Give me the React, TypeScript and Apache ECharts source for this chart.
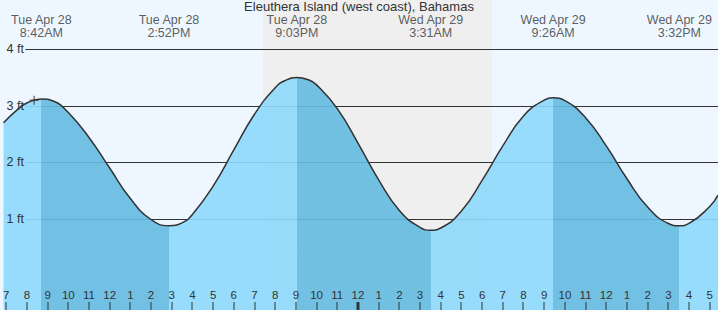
import React, { useEffect, useRef } from "react";
import * as echarts from "echarts";

// Hours since Tue Apr 28 00:00 (local) and tide height in feet
const curveHours = [6.87, 7.5, 8, 8.7, 9.3, 10, 11, 12, 13, 14, 14.867, 15.5, 16, 17, 18, 19, 20, 20.5, 21.05, 21.6, 22, 23, 24, 25, 26, 27, 27.517, 28, 29, 30, 31, 32, 33, 33.433, 34, 35, 36, 37, 38, 39, 39.533, 40, 41, 41.4];
const curveFeet = [2.7, 2.92, 3.05, 3.12, 3.08, 2.88, 2.44, 1.9, 1.36, 0.99, 0.88, 0.93, 1.08, 1.58, 2.22, 2.85, 3.32, 3.45, 3.5, 3.46, 3.37, 2.95, 2.34, 1.69, 1.15, 0.85, 0.8, 0.84, 1.14, 1.68, 2.29, 2.82, 3.1, 3.14, 3.09, 2.79, 2.29, 1.71, 1.21, 0.92, 0.88, 0.92, 1.22, 1.42];

// High / low tide events
const extremeHours = [8.7, 14.867, 21.05, 27.517, 33.433, 39.533];
const extremeDays = ["Tue Apr 28", "Tue Apr 28", "Tue Apr 28", "Wed Apr 29", "Wed Apr 29", "Wed Apr 29"];
const extremeTimes = ["8:42AM", "2:52PM", "9:03PM", "3:31AM", "9:26AM", "3:32PM"];

// Night (sunset -> sunrise)
const nightStart = 19.4;
const nightEnd = 30.47;

// Axis ticks
const hourTicks = [7, 8, 9, 10, 11, 12, 13, 14, 15, 16, 17, 18, 19, 20, 21, 22, 23, 24, 25, 26, 27, 28, 29, 30, 31, 32, 33, 34, 35, 36, 37, 38, 39, 40, 41];
const midnightHour = 24;
const feetTicks = [1, 2, 3, 4];

// Current time marker
const nowHour = 8.35;
const nowFeet = 3.1;

const xMin = 6.87;
const xMax = 41.4;
const yMin = -0.61;
const yMax = 4.87;

const titleText = "Eleuthera Island (west coast), Bahamas";

const FONT = '"Liberation Sans", Arial, sans-serif';
const LIGHT = "#8ed9fc";
const DARK = "#64bbe1";

export default function App() {
  const ref = useRef<HTMLDivElement>(null);

  useEffect(() => {
    if (!ref.current) return;
    const chart = echarts.init(ref.current, undefined, { renderer: "svg" });

    const pieces: any[] = [{ lt: extremeHours[0], color: LIGHT }];
    for (let i = 0; i < extremeHours.length - 1; i++) {
      pieces.push({ gte: extremeHours[i], lt: extremeHours[i + 1], color: i % 2 === 0 ? DARK : LIGHT });
    }
    pieces.push({ gte: extremeHours[extremeHours.length - 1], color: extremeHours.length % 2 === 0 ? LIGHT : DARK });

    const gridLineStart = xMin + (22 * (xMax - xMin)) / 718;

    const option: any = {
      animation: false,
      backgroundColor: "#eef7ff",
      textStyle: { fontFamily: FONT },
      title: {
        text: titleText,
        left: "center",
        top: 0,
        padding: 0,
        textStyle: { fontSize: 13, lineHeight: 13, fontWeight: "normal", color: "#333", fontFamily: FONT },
      },
      grid: { left: 0, right: 0, top: 0, bottom: 0 },
      xAxis: {
        type: "value",
        min: xMin,
        max: xMax,
        position: "bottom",
        z: 10,
        axisLine: { show: false, onZero: false },
        splitLine: { show: false },
        axisTick: { show: false },
        axisLabel: {
          show: true,
          inside: true,
          margin: 9,
          customValues: hourTicks,
          formatter: (v: number) => String(Math.round(v) % 12 || 12),
          color: "#333",
          fontSize: 11.5,
          fontFamily: FONT,
        },
      },
      yAxis: {
        type: "value",
        min: yMin,
        max: yMax,
        z: 10,
        axisLine: { show: false, onZero: false },
        axisTick: { show: false },
        splitLine: { show: false },
        axisLabel: {
          inside: true,
          margin: 3,
          customValues: feetTicks,
          formatter: (v: number) => v + " ft",
          color: "#333",
          fontSize: 12.5,
          fontFamily: FONT,
        },
      },
      visualMap: { type: "piecewise", show: false, dimension: 0, seriesIndex: 0, pieces },
      series: [
        {
          type: "line",
          data: curveHours.map((h, i) => [h, curveFeet[i]]),
          smooth: 0.5,
          showSymbol: false,
          symbol: "none",
          z: 3,
          lineStyle: { color: "#333", width: 1.5 },
          areaStyle: { opacity: 0.9, origin: "start" },
          markArea: {
            silent: true,
            z: 1,
            itemStyle: { color: "#efefef" },
            data: [[{ xAxis: nightStart }, { xAxis: nightEnd }]],
          },
          markLine: {
            silent: true,
            z: 2,
            symbol: "none",
            label: { show: false },
            lineStyle: { color: "#333", width: 1, type: "solid" },
            data: feetTicks.map((f) => [{ coord: [gridLineStart, f] }, { coord: [xMax, f] }]),
          },
        },
        {
          type: "custom",
          z: 11,
          silent: true,
          clip: false,
          data: hourTicks.map((h) => [h]),
          encode: { x: 0 },
          renderItem: (params: any, api: any) => {
            const h = api.value(0);
            const x = Math.round(api.coord([h, 0])[0]);
            const bottom = params.coordSys.y + params.coordSys.height;
            const thick = h === midnightHour;
            return {
              type: "rect",
              shape: { x: thick ? x - 1.5 : x - 0.5, y: bottom - 8, width: thick ? 3 : 1, height: 8 },
              style: { fill: "#333" },
            };
          },
        },
        {
          type: "scatter",
          data: extremeHours.map((h) => [h, yMax]),
          symbolSize: 1,
          itemStyle: { color: "transparent" },
          clip: false,
          z: 12,
          label: {
            show: true,
            position: "inside",
            offset: [0, 26.5],
            formatter: (p: any) => extremeDays[p.dataIndex] + "\n" + extremeTimes[p.dataIndex],
            color: "#333",
            fontSize: 12.5,
            lineHeight: 12.5,
            fontFamily: FONT,
          },
        },
        {
          type: "scatter",
          data: [[nowHour, nowFeet]],
          symbol: "path://M5 0V10M0 5H10",
          symbolSize: 9,
          itemStyle: { color: "transparent", borderColor: "#333", borderWidth: 1.2 },
          z: 12,
        },
      ],
    };

    chart.setOption(option);
    return () => chart.dispose();
  }, []);

  return <div ref={ref} style={{ position: "fixed", left: 0, top: 0, width: 718, height: 310 }} />;
}
